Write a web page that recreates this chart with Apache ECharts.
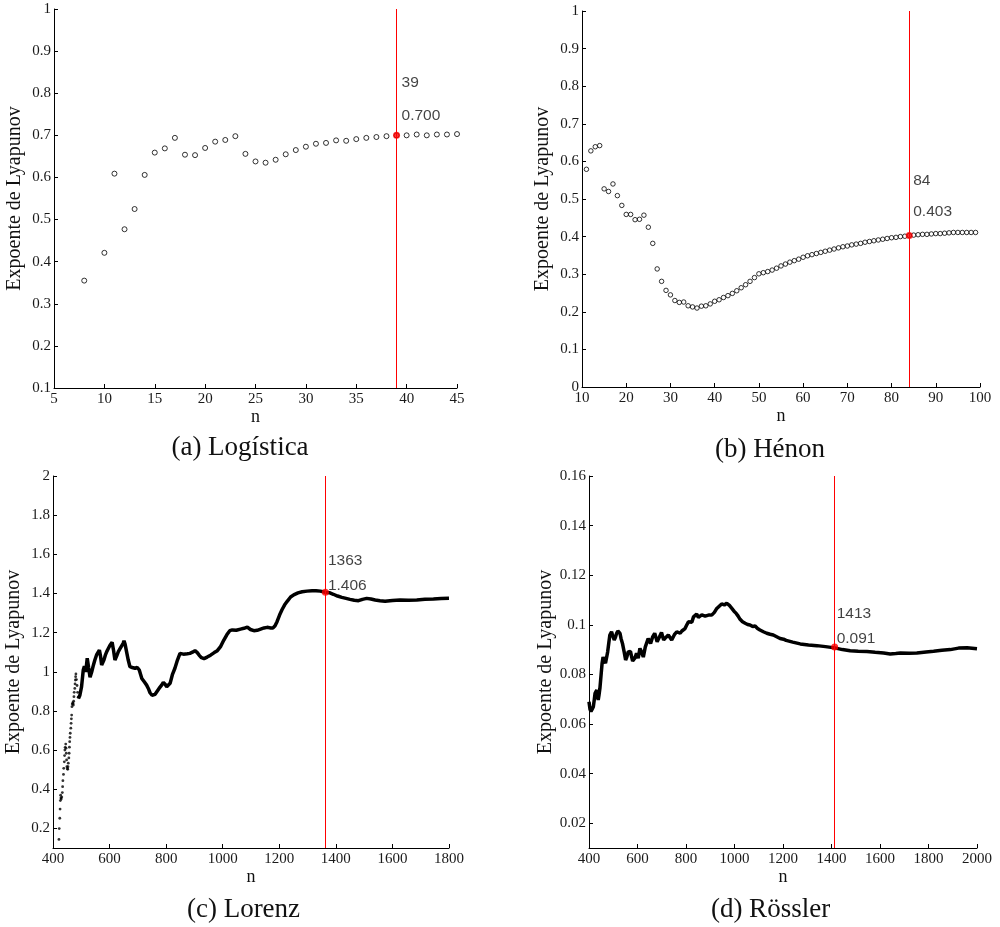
<!DOCTYPE html>
<html>
<head>
<meta charset="utf-8">
<script src="https://cdn.jsdelivr.net/npm/echarts@6/dist/echarts.min.js"></script>
<style>html,body{margin:0;padding:0;background:#fff}#c{width:1000px;height:927px}</style>
</head>
<body>
<div id="c"></div>
<script>
// ---- data ----
const captions = ['(a) Logística', '(b) Hénon', '(c) Lorenz', '(d) Rössler'];
const yName = 'Expoente de Lyapunov';
const xName = 'n';

const logN = [8,10,11,12,13,14,15,16,17,18,19,20,21,22,23,24,25,26,27,28,29,30,31,32,33,34,35,36,37,38,39,40,41,42,43,44,45];
const logV = [0.355,0.421,0.609,0.477,0.525,0.606,0.659,0.669,0.694,0.654,0.653,0.670,0.685,0.689,0.698,0.656,0.638,0.635,0.642,0.655,0.665,0.673,0.680,0.682,0.688,0.687,0.691,0.694,0.696,0.698,0.700,0.700,0.702,0.700,0.702,0.702,0.703];

const henonN = [11,12,13,14,15,16,17,18,19,20,21,22,23,24,25,26,27,28,29,30,31,32,33,34,35,36,37,38,39,40,41,42,43,44,45,46,47,48,49,50,51,52,53,54,55,56,57,58,59,60,61,62,63,64,65,66,67,68,69,70,71,72,73,74,75,76,77,78,79,80,81,82,83,84,85,86,87,88,89,90,91,92,93,94,95,96,97,98,99];
const henonV = [0.579,0.628,0.639,0.642,0.527,0.520,0.540,0.509,0.483,0.459,0.459,0.445,0.446,0.457,0.425,0.382,0.314,0.281,0.257,0.245,0.230,0.225,0.226,0.216,0.213,0.210,0.215,0.216,0.221,0.228,0.232,0.238,0.243,0.249,0.256,0.264,0.272,0.281,0.291,
  0.301,0.304,0.307,0.311,0.316,0.322,0.327,0.332,0.336,0.340,0.345,0.349,0.352,0.355,0.358,0.361,0.364,0.367,0.370,0.373,0.375,0.378,0.380,0.382,0.385,0.387,0.389,0.391,0.393,0.395,0.397,0.398,0.400,0.401,0.403,0.404,0.405,0.406,0.406,0.407,0.408,0.408,0.409,0.410,0.411,0.411,0.411,0.411,0.411,0.411];

// Lorenz: sparse early dots, then dense curve
const lorenzDotN = [421,422,424,425,426,427,428,429,431,433,434,435,437,438,440,441,442,443,445,446,447,448,449,451,452,453,454,456,457,458,459,460,461,463,464,465,466,467,468,470,471,472,473,474,475,477,478,479,480,481,483,485,487,489];
const lorenzDotV = [0.144,0.199,0.252,0.299,0.342,0.370,0.356,0.350,0.360,0.383,0.413,0.444,0.476,0.507,0.540,0.572,0.600,0.614,0.631,0.610,0.584,0.550,0.515,0.505,0.502,0.515,0.533,0.560,0.584,0.615,0.643,0.665,0.686,0.712,0.737,0.760,0.779,0.822,0.835,0.842,0.838,0.830,0.850,0.873,0.895,0.915,0.938,0.958,0.975,0.989,0.960,0.930,0.895,0.870];
const lorenzN = [490,495,501,507,511,516,521,526,531,537,543,548,554,564,568,572,576,580,585,590,596,602,609,614,619,625,631,637,643,648,651,655,660,666,672,680,690,698,705,710,714,722,731,737,743,750,755,761,767,775,784,790,793,797,802,808,814,822,831,840,849,855,861,867,875,884,893,902,910,917,925,934,945,957,970,981,993,1004,1015,1025,1034,1048,1063,1075,1087,1098,1110,1122,1134,1146,1157,1170,1178,1185,1192,1201,1210,1219,1228,1240,1251,1266,1281,1298,1316,1330,1345,1363,1377,1391,1406,1421,1436,1450,1465,1480,1494,1509,1524,1539,1556,1574,1600,1627,1656,1686,1715,1745,1772,1800];
const lorenzV = [0.864,0.880,0.924,1.009,1.029,1.000,1.069,1.020,0.972,1.000,1.035,1.060,1.086,1.111,1.080,1.035,1.045,1.060,1.085,1.103,1.120,1.137,1.150,1.110,1.060,1.080,1.103,1.118,1.128,1.145,1.158,1.140,1.103,1.060,1.026,1.022,1.018,1.022,1.009,0.985,0.966,0.950,0.932,0.915,0.893,0.880,0.878,0.885,0.898,0.915,0.932,0.946,0.950,0.935,0.924,0.930,0.941,0.985,1.018,1.060,1.094,1.098,1.090,1.086,1.092,1.094,1.100,1.108,1.098,1.084,1.072,1.067,1.075,1.085,1.098,1.108,1.130,1.162,1.190,1.210,1.214,1.212,1.218,1.222,1.228,1.216,1.210,1.212,1.218,1.224,1.227,1.224,1.224,1.235,1.256,1.290,1.318,1.342,1.360,1.382,1.393,1.403,1.409,1.412,1.414,1.414,1.412,1.406,1.404,1.396,1.387,1.380,1.375,1.370,1.365,1.363,1.370,1.375,1.372,1.367,1.363,1.360,1.364,1.367,1.366,1.367,1.370,1.372,1.374,1.375];

const rosslerN = [400,404,408,413,418,422,425,432,435,438,441,445,450,454,458,463,468,472,477,482,486,493,498,504,509,514,519,524,528,532,538,545,551,556,562,571,576,580,589,596,603,610,617,624,632,644,654,662,671,681,690,699,708,718,727,741,752,762,770,776,783,790,796,803,810,817,824,831,838,844,851,858,865,872,879,886,896,906,917,927,937,947,958,968,979,989,998,1007,1015,1023,1033,1044,1054,1064,1075,1085,1095,1105,1119,1133,1147,1160,1174,1188,1202,1213,1240,1271,1305,1340,1375,1413,1445,1477,1510,1546,1580,1615,1642,1665,1684,1720,1752,1790,1821,1855,1890,1924,1959,2000];
const rosslerV = [0.0690,0.0660,0.0650,0.0660,0.0670,0.0700,0.0724,0.0737,0.0720,0.0697,0.0715,0.0744,0.0800,0.0845,0.0870,0.0871,0.0845,0.0865,0.0891,0.0930,0.0959,0.0972,0.0955,0.0939,0.0950,0.0966,0.0975,0.0982,0.0965,0.0945,0.0925,0.0891,0.0858,0.0870,0.0891,0.0893,0.0870,0.0854,0.0865,0.0885,0.0865,0.0905,0.0890,0.0870,0.0910,0.0945,0.0925,0.0950,0.0966,0.0932,0.0950,0.0969,0.0939,0.0950,0.0959,0.0939,0.0960,0.0972,0.0980,0.0966,0.0975,0.0972,0.0985,0.0999,0.1012,0.1019,0.1010,0.1032,0.1025,0.1043,0.1030,0.1032,0.1040,0.1046,0.1035,0.1035,0.1040,0.1039,0.1050,0.1066,0.1075,0.1084,0.1080,0.1087,0.1078,0.1066,0.1055,0.1046,0.1035,0.1022,0.1012,0.1006,0.1001,0.0999,0.0993,0.0995,0.0985,0.0979,0.0972,0.0966,0.0962,0.0959,0.0952,0.0945,0.0942,0.0937,0.0930,0.0923,0.0919,0.0916,0.0912,0.0907,0.0900,0.0895,0.0893,0.0892,0.0889,0.0886,0.0882,0.0884,0.0886,0.0885,0.0886,0.0890,0.0893,0.0897,0.0900,0.0906,0.0907,0.0903];

const markN = [39, 84, 1363, 1413];
const markV = [0.700, 0.403, 1.406, 0.091];

const xRange = [[5,45,5],[10,100,10],[400,1800,200],[400,2000,200]];
const yRange = [[0.1,1,0.1],[0,1,0.1],[0.1,2,0.2],[0.01,0.16,0.02]];

// ---- chart ----
const zip = (a, b) => a.map((x, i) => [x, b[i]]);
const serif = 'Liberation Serif';
const fmt = v => String(parseFloat(Number(v).toFixed(6)));
const grids = [
  {left: 54, right: 543, top: 9, bottom: 539},
  {left: 582, right: 20, top: 11, bottom: 540},
  {left: 53, right: 551, top: 476, bottom: 79},
  {left: 589, right: 23, top: 476, bottom: 79}
];
const labelPos = [[8.5, -66, 33], [7.5, -67, 31], [6, -41, 25], [5.5, -42, 25]];

const xAxes = xRange.map((r, i) => ({
  type: 'value', gridIndex: i, min: r[0], max: r[1], interval: r[2],
  name: xName, nameLocation: 'middle', nameGap: 13,
  nameTextStyle: {fontFamily: serif, fontSize: 18, color: '#111'},
  axisLine: {show: true, onZero: false, lineStyle: {color: '#000', width: 1}},
  axisTick: {show: true, inside: true, length: 4, lineStyle: {color: '#000'}},
  axisLabel: {fontFamily: serif, fontSize: 15, color: '#1a1a1a', margin: 4, formatter: fmt},
  splitLine: {show: false}
}));
const yAxes = yRange.map((r, i) => {
  const exact = Math.abs(Math.round(r[0] / r[2]) * r[2] - r[0]) < 1e-9;
  const ax = {
    type: 'value', gridIndex: i, min: r[0], max: r[1],
    name: yName, nameLocation: 'middle', nameGap: 29,
    nameTextStyle: {fontFamily: serif, fontSize: 20, color: '#111'},
    axisLine: {show: true, onZero: false, lineStyle: {color: '#000', width: 1}},
    axisTick: {show: true, inside: true, length: 4, lineStyle: {color: '#000'}},
    axisLabel: {fontFamily: serif, fontSize: 15, color: '#1a1a1a', margin: 3, showMinLabel: exact, formatter: fmt},
    splitLine: {show: false}
  };
  if (exact) ax.interval = r[2]; else { ax.minInterval = r[2]; ax.maxInterval = r[2]; ax.splitNumber = 8; }
  return ax;
});

const hollow = (size) => ({
  type: 'scatter', symbol: 'circle', symbolSize: size,
  itemStyle: {color: 'rgba(0,0,0,0)', borderColor: '#000', borderWidth: 1}
});
const vline = (i) => ({
  silent: true, symbol: ['none', 'none'], label: {show: false},
  lineStyle: {color: '#ff0000', width: 1, type: 'solid', opacity: 1},
  data: [{xAxis: markN[i]}]
});

const series = [
  Object.assign(hollow(5), {xAxisIndex: 0, yAxisIndex: 0, data: zip(logN, logV), markLine: vline(0)}),
  Object.assign(hollow(4.5), {xAxisIndex: 1, yAxisIndex: 1, data: zip(henonN, henonV), markLine: vline(1)}),
  {type: 'scatter', xAxisIndex: 2, yAxisIndex: 2, symbol: 'circle', symbolSize: 2.8, itemStyle: {color: '#000'}, data: zip(lorenzDotN, lorenzDotV)},
  {type: 'line', xAxisIndex: 2, yAxisIndex: 2, showSymbol: false, lineStyle: {color: '#000', width: 3.5}, data: zip(lorenzN, lorenzV), markLine: vline(2)},
  {type: 'line', xAxisIndex: 3, yAxisIndex: 3, showSymbol: false, lineStyle: {color: '#000', width: 3.5}, data: zip(rosslerN, rosslerV), markLine: vline(3)}
];
markN.forEach((n, i) => {
  const p = labelPos[i];
  series.push({
    type: 'scatter', xAxisIndex: i, yAxisIndex: i, symbol: 'circle', symbolSize: 7, z: 5,
    itemStyle: {color: '#ff0000'},
    label: {
      show: true, position: [p[0], p[1]], align: 'left', verticalAlign: 'top',
      lineHeight: p[2], fontFamily: 'Liberation Sans', fontSize: 15.5, color: '#111',
      formatter: () => n + '\n' + markV[i].toFixed(3)
    },
    data: [[n, markV[i]]]
  });
});

const titlePos = [[235, 429], [765, 431], [238.5, 891], [765.5, 891]];
const titles = captions.map((t, i) => ({
  text: t, left: titlePos[i][0], top: titlePos[i][1], textAlign: 'center',
  textStyle: {fontFamily: serif, fontSize: 27, fontWeight: 'normal', color: '#111'}
}));

const chart = echarts.init(document.getElementById('c'), null, {renderer: 'canvas'});
chart.setOption({
  animation: false, backgroundColor: '#fff',
  title: titles, grid: grids, xAxis: xAxes, yAxis: yAxes, series: series
});
</script>
</body>
</html>
